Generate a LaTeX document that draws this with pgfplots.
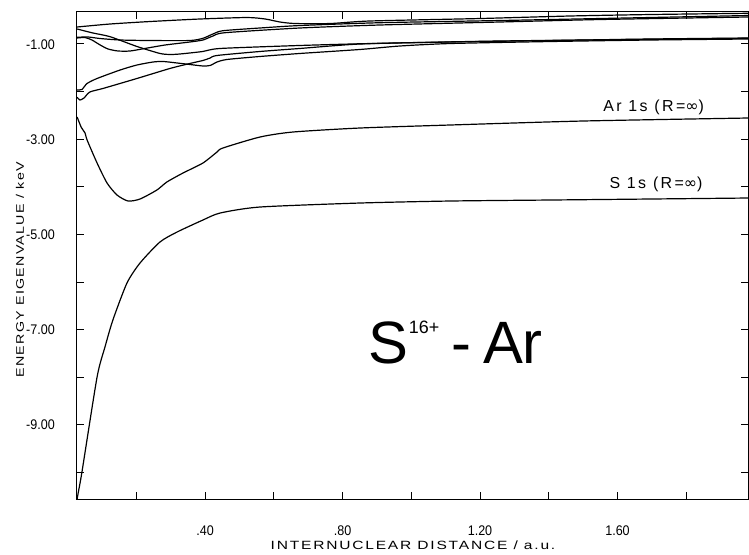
\documentclass[border=0pt]{standalone}
\usepackage{fontspec}
\setmainfont{Liberation Sans}[FakeStretch=0.9]
\newfontfamily\plotfont{Liberation Sans}[LetterSpace=15]
\newfontfamily\ylabfont{Liberation Sans}[FakeStretch=1.3,LetterSpace=12]
\newfontfamily\xlabfont{Liberation Sans}[FakeStretch=1.3,LetterSpace=15]
\newfontfamily\bigfont{Liberation Sans}
\newfontfamily\symfont{DejaVu Sans}
\usepackage{pgfplots}
\pgfplotsset{compat=1.18}
\begin{document}
\begin{tikzpicture}
\useasboundingbox (-77bp,-56bp) rectangle (672bp,499bp);
\begin{axis}[
  scale only axis, width=671bp, height=487bp,
  at={(0,0)}, anchor=south west,
  xmin=0.0276, xmax=1.9796, ymin=-10.554, ymax=-0.328,
  axis line style={line width=1bp},
  tick align=inside, major tick length=7bp,
  tick style={line width=1bp, black},
  xtick={0.2,0.4,0.6,0.8,1.0,1.2,1.4,1.6,1.8},
  xticklabels={,.40,,.80,,1.20,,1.60,},
  ytick={-10,-9,-8,-7,-6,-5,-4,-3,-2,-1},
  yticklabels={,-9.00,,-7.00,,-5.00,,-3.00,,-1.00},
  ticklabel style={font=\fontsize{14}{14}\selectfont},
  xticklabel style={anchor=base, inner sep=0pt, yshift=-36bp},
  yticklabel style={anchor=base east, inner sep=0pt, xshift=-22bp, yshift=-5bp},
  cycle list={{black, solid, mark=none}},
  every axis plot/.append style={line width=1.2bp, smooth, tension=0.4},
]
% S 1s
\addplot coordinates {(0.028,-10.554)(0.031,-10.428)(0.042,-9.987)(0.086,-7.992)(0.109,-7.362)(0.132,-6.795)(0.173,-6.018)(0.211,-5.598)(0.269,-5.157)(0.319,-4.947)(0.394,-4.696)(0.444,-4.549)(0.560,-4.423)(0.851,-4.339)(1.113,-4.297)(1.404,-4.276)(1.695,-4.255)(1.980,-4.234)};
% Ar 1s
\addplot coordinates {(0.028,-2.533)(0.040,-2.75)(0.051,-2.869)(0.057,-3.016)(0.086,-3.499)(0.115,-3.919)(0.144,-4.171)(0.176,-4.297)(0.211,-4.255)(0.260,-4.066)(0.289,-3.898)(0.336,-3.709)(0.394,-3.499)(0.435,-3.268)(0.452,-3.184)(0.560,-2.953)(0.656,-2.848)(0.851,-2.764)(1.113,-2.701)(1.500,-2.617)(1.980,-2.554)};
% upper curves
\addplot coordinates {(0.028,-0.643)(0.124,-0.580)(0.240,-0.528)(0.386,-0.475)(0.522,-0.444)(0.575,-0.475)(0.618,-0.538)(0.662,-0.570)(0.764,-0.570)(0.880,-0.517)(1.200,-0.465)(1.462,-0.412)(1.695,-0.381)(1.980,-0.355)};
\addplot coordinates {(0.028,-0.859)(0.060,-0.853)(0.095,-0.885)(0.153,-0.916)(0.240,-0.927)(0.356,-0.927)(0.394,-0.880)(0.423,-0.790)(0.452,-0.721)(0.560,-0.664)(0.676,-0.612)(0.909,-0.553)(1.258,-0.507)(1.549,-0.465)(1.980,-0.402)};
\addplot coordinates {(0.028,-0.874)(0.051,-0.864)(0.071,-0.916)(0.095,-1.021)(0.118,-1.105)(0.147,-1.147)(0.182,-1.147)(0.225,-1.094)(0.284,-1.021)(0.356,-0.958)(0.394,-0.916)(0.423,-0.832)(0.458,-0.763)(0.676,-0.664)(0.909,-0.601)(1.258,-0.538)(1.549,-0.486)(1.980,-0.433)};
\addplot coordinates {(0.028,-0.685)(0.074,-0.769)(0.124,-0.847)(0.202,-1.052)(0.269,-1.199)(0.298,-1.220)(0.327,-1.210)(0.394,-1.157)(0.444,-1.094)(0.676,-1.031)(0.909,-0.985)(1.258,-0.937)(1.695,-0.901)(1.980,-0.880)};
\addplot coordinates {(0.028,-1.966)(0.042,-1.955)(0.057,-1.829)(0.086,-1.724)(0.153,-1.546)(0.202,-1.441)(0.249,-1.378)(0.278,-1.367)(0.319,-1.399)(0.356,-1.430)(0.394,-1.462)(0.415,-1.451)(0.435,-1.378)(0.464,-1.325)(0.560,-1.262)(0.676,-1.199)(0.851,-1.115)(0.967,-1.042)(1.113,-0.990)(1.404,-0.948)(1.695,-0.916)(1.980,-0.895)};
\addplot coordinates {(0.028,-2.119)(0.036,-2.176)(0.048,-2.134)(0.065,-2.008)(0.103,-1.934)(0.202,-1.724)(0.298,-1.514)(0.356,-1.409)(0.394,-1.346)(0.415,-1.294)(0.435,-1.241)(0.560,-1.157)(0.676,-1.094)(0.851,-1.000)(1.113,-0.958)(1.404,-0.927)(1.695,-0.895)(1.980,-0.874)};
\node[font=\plotfont\fontsize{16}{16}\selectfont] at (axis cs:1.705,-2.333) {Ar 1s (R={\symfont ∞})};
\node[font=\plotfont\fontsize{16}{16}\selectfont] at (axis cs:1.712,-3.950) {S 1s (R={\symfont ∞})};
\node[font=\bigfont\fontsize{60}{60}\selectfont] at (axis cs:1.130,-7.268) {S\raisebox{30bp}{\fontsize{18}{18}\selectfont 16+}\hspace{12bp}-\hspace{12bp}Ar};
\end{axis}
\node[rotate=90, font=\ylabfont\fontsize{11}{11}\selectfont] at (-57bp,229bp) {ENERGY EIGENVALUE / keV};
\node[font=\xlabfont\fontsize{12}{12}\selectfont] at (336bp,-46bp) {INTERNUCLEAR DISTANCE / a.u.};
\end{tikzpicture}
\end{document}
